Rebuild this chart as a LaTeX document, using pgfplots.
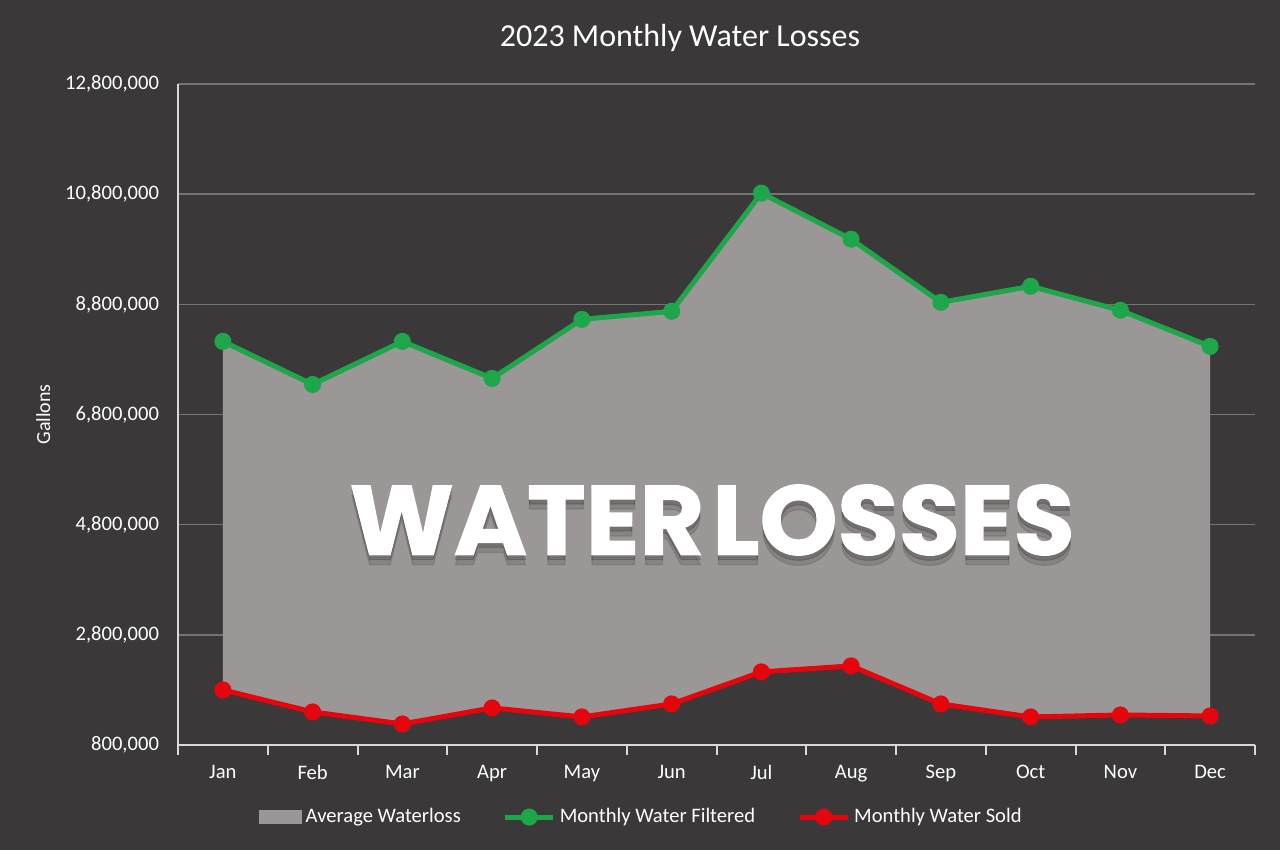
\documentclass[border=0pt]{standalone}
\usepackage{pgfplots}
\pgfplotsset{compat=1.18}
\usepackage{pgfplotstable}
\usepgfplotslibrary{fillbetween}
\usepackage{fontspec}
\setmainfont{Carlito}
\newfontfamily\bigfont{Poppins}[BoldFeatures={FakeBold=1.2}]

\definecolor{bg}{HTML}{3A3839}
\definecolor{areagrey}{HTML}{9B9796}
\definecolor{axiswhite}{HTML}{D9D9D9}
\definecolor{fgreen}{HTML}{1DA64A}
\definecolor{sred}{HTML}{E5060D}
\pagecolor{bg}

% monthly gallons
\pgfplotstableread{
m filtered sold
0  8127000 1800000
1  7345000 1400000
2  8127000 1182000
3  7455000 1473000
4  8527000 1309000
5  8673000 1545000
6  10818000 2127000
7  9982000 2236000
8  8836000 1545000
9  9127000 1309000
10 8691000 1345000
11 8036000 1327000
}\datatable

\newcommand{\overlaytext}{\resizebox{362.5pt}{35pt}{\bigfont\bfseries WATER\hspace{0.08em}LOSSES}}

\begin{document}%
\begin{tikzpicture}
\node[text=white, font=\fontsize{16}{19}\selectfont] at (340pt,406pt) {2023 Monthly Water Losses};
\begin{axis}[
  at={(89pt,52.5pt)}, anchor=south west,
  scale only axis, width=538.5pt, height=330.5pt,
  xmin=-0.5, xmax=11.5, ymin=800000, ymax=12800000,
  ytick={800000,2800000,4800000,6800000,8800000,10800000,12800000},
  xtick={0,...,11},
  xticklabels={Jan,Feb,Mar,Apr,May,Jun,Jul,Aug,Sep,Oct,Nov,Dec},
  major tick length=0pt,
  extra x ticks={-0.5,0.5,...,11.5}, extra x tick labels={},
  extra x tick style={major tick length=5pt, tick align=outside,
    tick style={axiswhite, line width=1pt}, grid=none},
  axis x line*=bottom, axis y line*=left,
  axis line style={-, axiswhite, line width=1pt},
  ymajorgrids, grid style={white, opacity=0.3, line width=0.8pt},
  scaled y ticks=false,
  yticklabel style={/pgf/number format/fixed, /pgf/number format/1000 sep={,},
    /pgf/number format/assume math mode=true, xshift=-6pt},
  tick label style={text=white, font=\fontsize{10.3}{12}\selectfont},
  xticklabel style={yshift=-6.5pt},
  ylabel={Gallons}, ylabel style={text=white, font=\fontsize{10}{12}\selectfont,
    at={(axis description cs:-0.125,0.5)}, anchor=center},
  legend columns=3,
  legend style={at={(axis description cs:0.431,-0.109)}, anchor=center,
    draw=none, fill=none, text=white, font=\fontsize{10.3}{12}\selectfont,
    /tikz/every even column/.append style={column sep=19pt}},
  legend image code/.code={\draw[#1, mark repeat=2, mark phase=2] plot coordinates {(0pt,0pt) (12pt,0pt) (24pt,0pt)};},
]
\addplot[name path=F, draw=none, forget plot] table[x=m, y=filtered] {\datatable};
\addplot[name path=S, draw=none, forget plot] table[x=m, y=sold] {\datatable};
\addplot[areagrey, draw=none, on layer=axis background,
  legend image code/.code={\fill[areagrey] (0pt,-3.6pt) rectangle (21.5pt,3.6pt);}]
  fill between[of=F and S];
\addlegendentry{Average Waterloss}
\addplot[fgreen, line width=2.5pt, mark=*, mark size=3pt] table[x=m, y=filtered] {\datatable};
\addlegendentry{Monthly Water Filtered}
\addplot[sred, line width=2.5pt, mark=*, mark size=3pt] table[x=m, y=sold] {\datatable};
\addlegendentry{Monthly Water Sold}
\end{axis}
% soft drop shadow under the overlay title
\node[text=black, opacity=0.12] at (356pt,160pt) {\overlaytext};
\node[text=black, opacity=0.15] at (356pt,162.5pt) {\overlaytext};
\node[text=white] at (356pt,165pt) {\overlaytext};
\pgfresetboundingbox
\path (0,0) rectangle (640pt,425pt);
\end{tikzpicture}%
\end{document}
